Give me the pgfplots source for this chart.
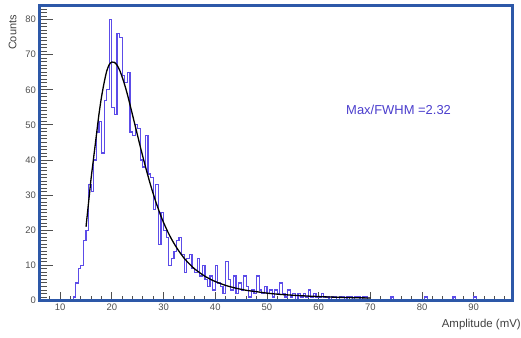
\documentclass[border=0pt]{standalone}
\usepackage{pgfplots}
\pgfplotsset{compat=1.18}
\usepackage{pgfplotstable}
\usepackage{fontspec}
\setmainfont{Liberation Sans}
\definecolor{histc}{RGB}{92,76,232}
\definecolor{textc}{RGB}{75,62,205}
\definecolor{framec}{RGB}{45,88,168}
\definecolor{tickc}{RGB}{80,80,80}

\pgfplotstableread{
x y
12.0 0
12.5 1
13.0 5
13.5 9
14.0 10
14.5 17
15.0 20
15.5 33
16.0 31
16.5 40
17.0 48
17.5 51
18.0 42
18.5 57
19.0 60
19.5 80
20.0 55
20.5 53
21.0 76
21.5 75
22.0 64
22.5 62
23.0 65
23.5 48
24.0 47
24.5 50
25.0 49
25.5 40
26.0 38
26.5 47
27.0 36
27.5 35
28.0 26
28.5 33
29.0 16
29.5 25
30.0 20
30.5 18
31.0 10
31.5 12
32.0 14
32.5 17
33.0 18
33.5 13
34.0 8
34.5 12
35.0 13
35.5 9
36.0 8
36.5 12
37.0 7
37.5 10
38.0 6
38.5 4
39.0 7
39.5 3
40.0 10
40.5 5
41.0 4
41.5 2
42.0 11
42.5 6
43.0 3
43.5 7
44.0 2
44.5 5
45.0 3
45.5 7
46.0 4
46.5 1
47.0 3
47.5 2
48.0 7
48.5 3
49.0 2
49.5 4
50.0 2
50.5 3
51.0 1
51.5 3
52.0 2
52.5 5
53.0 2
53.5 1
54.0 3
54.5 1
55.0 2
55.5 0
56.0 2
56.5 1
57.0 2
57.5 1
58.0 3
58.5 1
59.0 2
59.5 1
60.0 1
60.5 2
61.0 1
61.5 1
62.0 0
62.5 1
63.0 1
63.5 0
64.0 1
64.5 1
65.0 0
65.5 1
66.0 1
66.5 0
67.0 1
67.5 1
68.0 0
68.5 1
69.0 1
69.5 0
74.0 1
74.5 0
80.5 1
81.0 0
86.0 1
86.5 0
90.0 1
90.5 0
97.5 0
}\histdata

\pgfplotstableread{
x y
15.0 21
15.5 28
16.0 35
16.5 41
17.0 47
17.5 53
18.0 58
18.5 62
19.0 65.3
19.5 67.2
20.0 67.9
20.5 67.8
21.0 67.0
21.5 65.6
22.0 63.6
22.5 61.3
23.0 58.7
23.5 55.8
24.0 52.8
24.5 49.8
25.0 46.8
25.5 43.8
26.0 40.9
26.5 38.1
27.0 35.4
27.5 32.8
28.0 30.4
28.5 28.1
29.0 26.0
29.5 24.0
30.0 22.2
31.0 19.0
32.0 16.3
33.0 14.0
34.0 12.0
35.0 10.4
36.0 9.0
37.0 7.9
38.0 6.9
39.0 6.1
40.0 5.4
42.0 4.3
44.0 3.5
46.0 2.9
48.0 2.5
50.0 2.1
52.0 1.8
55.0 1.5
58.0 1.25
61.0 1.05
64.0 0.9
67.0 0.8
70.0 0.7
}\fitdata

\begin{document}
\begin{tikzpicture}
\begin{axis}[
  scale only axis, width=473bp, height=295bp,
  xmin=6, xmax=97.5, ymin=0, ymax=84,
  axis line style={draw=none},
  tick align=inside, xtick pos=bottom, ytick pos=left,
  xtick={10,20,...,90}, ytick={0,10,...,80},
  minor xtick={6,8,...,96}, minor ytick={1,2,...,83},
  major tick length=13bp, minor tick length=7bp,
  xtick style={/pgfplots/major tick length=8bp,/pgfplots/minor tick length=4.5bp},
  tick style={tickc, line width=0.9bp},
  ticklabel style={font=\fontsize{9.5}{10}\selectfont, text=tickc},
  /pgf/number format/assume math mode=true,
  clip=false,
]
\addplot[const plot, histc, line width=1.2bp] table[x=x,y=y] {\histdata};
\addplot[black, line width=1.3bp, smooth] table[x=x,y=y] {\fitdata};
\node[anchor=west, inner sep=0, text=textc, font=\fontsize{13}{14}\selectfont] at (axis cs:65.3,54.3) {Max/FWHM =2.32};
\coordinate (sw) at (rel axis cs:0,0);
\coordinate (ne) at (rel axis cs:1,1);
\coordinate (nw) at (rel axis cs:0,1);
\coordinate (se) at (rel axis cs:1,0);
\end{axis}
\draw[framec, line width=2.2bp] (sw) rectangle (ne);
\node[anchor=north east, inner sep=0, text=tickc!80!black, font=\fontsize{11.5}{12}\selectfont] at ([xshift=8.5bp,yshift=-19bp]se) {Amplitude (mV)};
\node[anchor=east, rotate=90, inner sep=0, text=tickc!80!black, font=\fontsize{11}{12}\selectfont] at ([xshift=-27bp,yshift=-9.5bp]nw) {Counts};
\pgfresetboundingbox
\path[use as bounding box] ([xshift=-39.5bp,yshift=-37.5bp]sw) rectangle ([xshift=8.5bp,yshift=5.5bp]ne);
\end{tikzpicture}
\end{document}
